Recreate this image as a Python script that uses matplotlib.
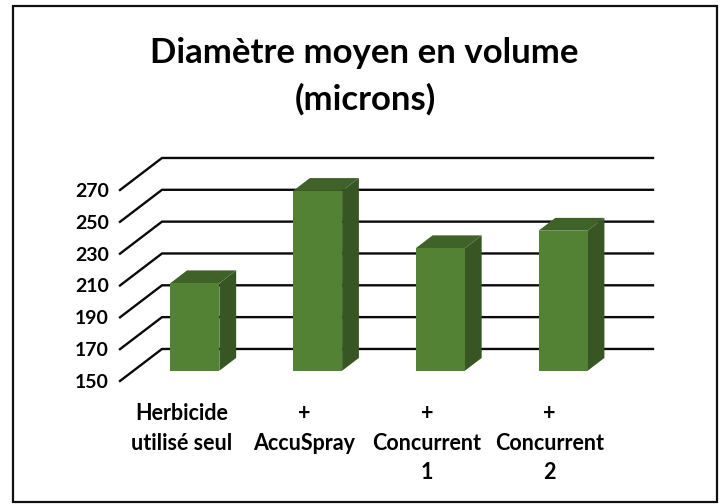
import matplotlib
matplotlib.use('Agg')
import matplotlib.pyplot as plt
from matplotlib.patches import Polygon, Rectangle

categories = ['Herbicide\nutilisé seul', '+\nAccuSpray', '+\nConcurrent\n1', '+\nConcurrent\n2']
values = [205, 263, 227, 238]
y_ticks = [150, 170, 190, 210, 230, 250, 270]

W, H = 722, 504
DEPTH_X = 42 / 122.75
DEPTH_Y = 32 / 31.8 * 20
BAR_W = 0.4


def proj(x, y, d):
    return (x + d * DEPTH_X, y + d * DEPTH_Y)


def draw_bar(ax, pos, val):
    x0, x1 = pos - BAR_W / 2, pos + BAR_W / 2
    d0, d1 = 0.32, 0.72
    front = [proj(x0, 150, d0), proj(x1, 150, d0), proj(x1, val, d0), proj(x0, val, d0)]
    side = [proj(x1, 150, d0), proj(x1, 150, d1), proj(x1, val, d1), proj(x1, val, d0)]
    top = [proj(x0, val, d0), proj(x1, val, d0), proj(x1, val, d1), proj(x0, val, d1)]
    ax.add_patch(Polygon(side, fc='#375623', ec='none', clip_on=False, zorder=3))
    ax.add_patch(Polygon(top, fc='#3f6228', ec='none', clip_on=False, zorder=3))
    ax.add_patch(Polygon(front, fc='#548235', ec='none', clip_on=False, zorder=4))


plt.rcParams['font.family'] = ['Lato', 'DejaVu Sans']
plt.rcParams['font.weight'] = 'bold'
fig = plt.figure(figsize=(W / 100, H / 100), dpi=100)
ax = fig.add_axes([120 / W, 1 - 381 / H, 491 / W, 191 / H])
ax.set_xlim(0, len(categories))
ax.set_ylim(150, 270)
for s in ax.spines.values():
    s.set_visible(False)

# gridlines: side wall then back wall
for t in y_ticks:
    a, b, c = proj(0, t, 0), proj(0, t, 1), proj(len(categories), t, 1)
    ax.plot([a[0], b[0], c[0]], [a[1], b[1], c[1]], color='#0a0a0a', lw=1.7, clip_on=False, zorder=2,
            solid_joinstyle='miter')

positions = [i + 0.5 for i in range(len(categories))]
for p, v in zip(positions, values):
    draw_bar(ax, p, v)

ax.set_yticks(y_ticks)
ax.set_xticks(positions)
ax.set_xticklabels(categories, linespacing=1.5)
ax.tick_params(axis='y', length=0, pad=8, labelsize=14)
ax.tick_params(axis='x', length=0, pad=16, labelsize=15.5)

fig.text(364 / W, 1 - 53 / H, 'Diamètre moyen en volume', ha='center', va='center', fontsize=25)
fig.text(365 / W, 1 - 99 / H, '(microns)', ha='center', va='center', fontsize=25)
fig.add_artist(Rectangle((12.5 / W, 1 - 502 / H), 704 / W, 496 / H, transform=fig.transFigure,
                         fc='none', ec='#111111', lw=1.6))
fig.savefig('out.png', dpi=100)
